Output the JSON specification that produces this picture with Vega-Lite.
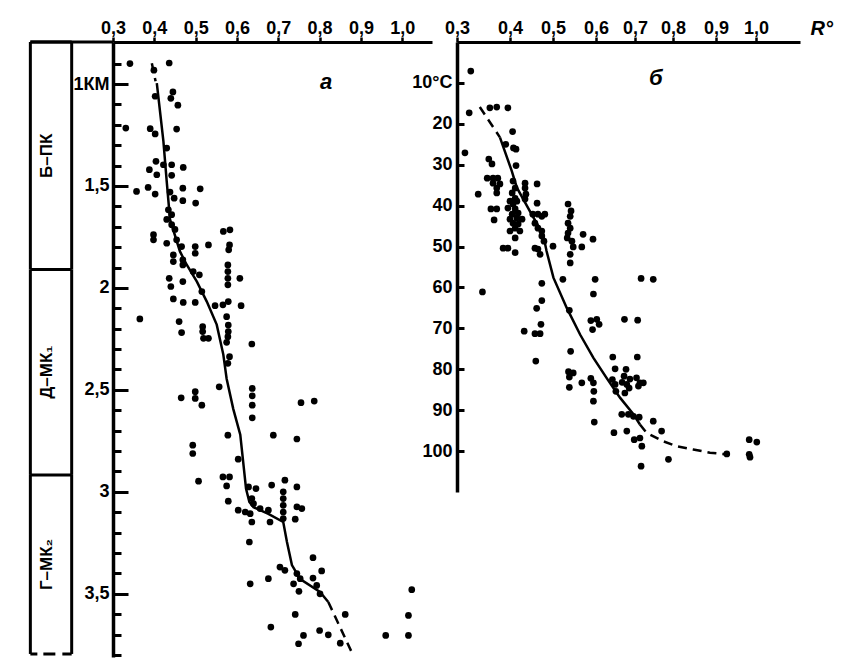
{
  "$schema": "https://vega.github.io/schema/vega-lite/v6.json",
  "background": "white",
  "padding": {"left": 28, "top": 18, "right": 5, "bottom": 5},
  "bounds": "flush",
  "spacing": 25,
  "config": {
    "view": {"stroke": null},
    "font": "Liberation Sans",
    "axis": {"labelOverlap": false, "labelFlush": false, "grid": false, "domainColor": "black", "tickColor": "black", "labelColor": "black", "labelFontWeight": "bold", "labelFontSize": 18, "labelFont": "Liberation Sans"}
  },
  "datasets": {
    "apts": [
      {"R":0.341,"D":0.900},{"R":0.436,"D":0.897},{"R":0.399,"D":0.932},{"R":0.445,"D":1.039},{"R":0.402,"D":1.060},{"R":0.440,"D":1.070},{"R":0.457,"D":1.104},{"R":0.331,"D":1.216},{"R":0.390,"D":1.219},{"R":0.402,"D":1.245},{"R":0.454,"D":1.221},{"R":0.430,"D":1.314},{"R":0.404,"D":1.379},{"R":0.422,"D":1.396},{"R":0.442,"D":1.396},{"R":0.470,"D":1.409},{"R":0.388,"D":1.420},{"R":0.406,"D":1.445},{"R":0.442,"D":1.448},{"R":0.385,"D":1.507},{"R":0.357,"D":1.527},{"R":0.402,"D":1.540},{"R":0.438,"D":1.530},{"R":0.469,"D":1.511},{"R":0.511,"D":1.514},{"R":0.448,"D":1.560},{"R":0.469,"D":1.572},{"R":0.500,"D":1.584},{"R":0.434,"D":1.617},{"R":0.442,"D":1.641},{"R":0.430,"D":1.664},
      {"R":0.442,"D":1.690},{"R":0.450,"D":1.713},{"R":0.398,"D":1.739},{"R":0.398,"D":1.764},{"R":0.430,"D":1.781},{"R":0.454,"D":1.764},{"R":0.466,"D":1.797},{"R":0.499,"D":1.797},{"R":0.499,"D":1.830},{"R":0.531,"D":1.789},{"R":0.583,"D":1.715},{"R":0.567,"D":1.723},{"R":0.582,"D":1.789},{"R":0.580,"D":1.813},{"R":0.446,"D":1.838},{"R":0.446,"D":1.871},{"R":0.469,"D":1.887},{"R":0.469,"D":1.862},{"R":0.494,"D":1.920},{"R":0.509,"D":1.936},{"R":0.578,"D":1.887},{"R":0.578,"D":1.920},{"R":0.578,"D":1.953},{"R":0.578,"D":1.985},{"R":0.607,"D":1.953},{"R":0.436,"D":1.953},{"R":0.440,"D":1.993},{"R":0.469,"D":1.969},{"R":0.515,"D":2.018},{"R":0.446,"D":2.054},{"R":0.470,"D":2.071},{"R":0.499,"D":2.071},{"R":0.547,"D":2.087},{"R":0.566,"D":2.083},{"R":0.579,"D":2.067},{"R":0.610,"D":2.087},{"R":0.575,"D":2.141},{"R":0.365,"D":2.152},{"R":0.460,"D":2.165},{"R":0.466,"D":2.219},{"R":0.517,"D":2.190},{"R":0.517,"D":2.214},{"R":0.519,"D":2.247},{"R":0.531,"D":2.247},{"R":0.579,"D":2.182},{"R":0.579,"D":2.214},{"R":0.578,"D":2.239},{"R":0.575,"D":2.267},{"R":0.636,"D":2.275},{"R":0.582,"D":2.337},{"R":0.578,"D":2.370},{"R":0.557,"D":2.485},{"R":0.465,"D":2.539},{"R":0.499,"D":2.509},{"R":0.499,"D":2.542},{"R":0.515,"D":2.575},{"R":0.637,"D":2.493},{"R":0.637,"D":2.529},{"R":0.637,"D":2.575},{"R":0.637,"D":2.637},{"R":0.755,"D":2.563},{"R":0.787,"D":2.555},{"R":0.578,"D":2.722},{"R":0.688,"D":2.722},{"R":0.745,"D":2.741},
      {"R":0.493,"D":2.771},{"R":0.493,"D":2.812},{"R":0.603,"D":2.840},{"R":0.507,"D":2.948},{"R":0.566,"D":2.927},{"R":0.582,"D":2.927},{"R":0.575,"D":2.971},{"R":0.579,"D":3.046},{"R":0.628,"D":2.976},{"R":0.646,"D":2.984},{"R":0.636,"D":3.033},{"R":0.640,"D":3.058},{"R":0.603,"D":3.090},{"R":0.620,"D":3.099},{"R":0.632,"D":3.107},{"R":0.636,"D":3.148},{"R":0.684,"D":2.967},{"R":0.716,"D":2.943},{"R":0.745,"D":2.976},{"R":0.712,"D":3.000},{"R":0.712,"D":3.033},{"R":0.712,"D":3.066},{"R":0.712,"D":3.099},{"R":0.712,"D":3.131},{"R":0.745,"D":3.074},{"R":0.757,"D":3.082},{"R":0.741,"D":3.134},{"R":0.676,"D":3.090},{"R":0.680,"D":3.148},{"R":0.656,"D":3.082},{"R":0.630,"D":3.246},{"R":0.784,"D":3.323},{"R":0.704,"D":3.369},{"R":0.716,"D":3.385},{"R":0.805,"D":3.388},{"R":0.676,"D":3.426},{"R":0.632,"D":3.451},{"R":0.745,"D":3.401},{"R":0.753,"D":3.426},{"R":0.737,"D":3.451},{"R":0.784,"D":3.423},{"R":0.793,"D":3.459},{"R":0.750,"D":3.488},{"R":0.801,"D":3.500},{"R":0.741,"D":3.601},{"R":0.862,"D":3.601},{"R":0.682,"D":3.663},{"R":0.800,"D":3.680},{"R":0.821,"D":3.701},{"R":0.761,"D":3.704},{"R":0.749,"D":3.745},{"R":0.850,"D":3.742},{"R":0.960,"D":3.704},{"R":1.015,"D":3.704},{"R":1.015,"D":3.606},{"R":1.023,"D":3.480}
    ],
    "aline": [
      {"R":0.394,"D":0.898,"seg":"t"},{"R":0.403,"D":0.986,"seg":"t"},
      {"R":0.406,"D":0.996,"seg":"s"},{"R":0.422,"D":1.281,"seg":"s"},{"R":0.430,"D":1.478,"seg":"s"},{"R":0.438,"D":1.664,"seg":"s"},{"R":0.462,"D":1.821,"seg":"s"},{"R":0.478,"D":1.885,"seg":"s"},{"R":0.503,"D":1.969,"seg":"s"},{"R":0.527,"D":2.067,"seg":"s"},{"R":0.551,"D":2.180,"seg":"s"},{"R":0.567,"D":2.327,"seg":"s"},{"R":0.575,"D":2.445,"seg":"s"},{"R":0.591,"D":2.593,"seg":"s"},{"R":0.608,"D":2.720,"seg":"s"},{"R":0.622,"D":2.985,"seg":"s"},{"R":0.630,"D":3.050,"seg":"s"},{"R":0.640,"D":3.075,"seg":"s"},{"R":0.676,"D":3.108,"seg":"s"},{"R":0.712,"D":3.148,"seg":"s"},{"R":0.721,"D":3.246,"seg":"s"},{"R":0.733,"D":3.359,"seg":"s"},{"R":0.753,"D":3.428,"seg":"s"},{"R":0.801,"D":3.491,"seg":"s"},{"R":0.821,"D":3.540,"seg":"s"},
      {"R":0.821,"D":3.540,"seg":"b"},{"R":0.881,"D":3.801,"seg":"b"}
    ],
    "bpts": [
      {"R":0.326,"T":7.1},{"R":0.323,"T":17.3},{"R":0.315,"T":27.1},{"R":0.340,"T":37.2},{"R":0.362,"T":16.1},{"R":0.375,"T":15.9},{"R":0.396,"T":16.1},{"R":0.406,"T":21.9},{"R":0.392,"T":25.0},{"R":0.408,"T":25.9},{"R":0.414,"T":26.2},{"R":0.414,"T":30.2},
      {"R":0.360,"T":28.6},{"R":0.366,"T":29.8},{"R":0.357,"T":33.3},{"R":0.368,"T":33.3},{"R":0.377,"T":33.3},{"R":0.368,"T":34.5},{"R":0.375,"T":35.7},{"R":0.381,"T":34.7},{"R":0.375,"T":36.9},{"R":0.364,"T":40.8},{"R":0.375,"T":40.8},{"R":0.370,"T":43.5},
      {"R":0.407,"T":34.0},{"R":0.412,"T":35.7},{"R":0.405,"T":36.9},{"R":0.412,"T":38.2},{"R":0.400,"T":38.9},{"R":0.407,"T":39.6},{"R":0.416,"T":38.9},{"R":0.396,"T":40.6},{"R":0.412,"T":40.8},{"R":0.419,"T":41.8},{"R":0.405,"T":42.1},{"R":0.416,"T":43.0},{"R":0.400,"T":43.3},{"R":0.407,"T":44.3},{"R":0.419,"T":44.5},{"R":0.412,"T":45.5},{"R":0.400,"T":46.2},{"R":0.428,"T":43.3},{"R":0.423,"T":46.2},
      {"R":0.435,"T":34.5},{"R":0.435,"T":35.7},{"R":0.437,"T":37.2},{"R":0.435,"T":38.4},{"R":0.463,"T":34.7},{"R":0.463,"T":39.4},{"R":0.453,"T":42.1},{"R":0.465,"T":42.1},{"R":0.474,"T":42.6},{"R":0.481,"T":42.1},{"R":0.458,"T":44.3},{"R":0.465,"T":45.5},{"R":0.474,"T":46.2},{"R":0.474,"T":47.4},{"R":0.479,"T":48.7},{"R":0.500,"T":49.9},
      {"R":0.535,"T":39.6},{"R":0.542,"T":41.3},{"R":0.540,"T":42.6},{"R":0.535,"T":44.3},{"R":0.540,"T":45.5},{"R":0.535,"T":46.7},{"R":0.533,"T":47.9},{"R":0.544,"T":48.7},{"R":0.547,"T":50.1},{"R":0.567,"T":50.1},{"R":0.570,"T":47.0},{"R":0.593,"T":48.2},{"R":0.387,"T":50.4},{"R":0.396,"T":50.4},{"R":0.412,"T":47.9},{"R":0.458,"T":50.4},{"R":0.465,"T":50.6},
      {"R":0.412,"T":51.5},{"R":0.470,"T":51.9},{"R":0.540,"T":51.9},{"R":0.540,"T":54.0},{"R":0.348,"T":61.1},{"R":0.474,"T":59.0},{"R":0.474,"T":63.2},{"R":0.462,"T":65.1},{"R":0.472,"T":69.0},{"R":0.433,"T":70.7},{"R":0.458,"T":71.3},{"R":0.470,"T":71.3},{"R":0.460,"T":78.0},{"R":0.523,"T":58.0},{"R":0.598,"T":58.0},{"R":0.594,"T":61.6},{"R":0.538,"T":65.6},{"R":0.588,"T":68.1},{"R":0.602,"T":67.8},{"R":0.608,"T":69.0},{"R":0.592,"T":70.3},{"R":0.673,"T":67.8},{"R":0.707,"T":68.0},{"R":0.716,"T":57.8},{"R":0.748,"T":58.0},{"R":0.541,"T":75.6},{"R":0.536,"T":80.6},{"R":0.547,"T":80.9},{"R":0.538,"T":81.9},{"R":0.538,"T":84.4},{"R":0.567,"T":83.3},{"R":0.588,"T":82.2},{"R":0.594,"T":83.3},{"R":0.595,"T":85.4},{"R":0.594,"T":87.8},{"R":0.596,"T":92.9},{"R":0.643,"T":77.0},{"R":0.649,"T":79.9},{"R":0.642,"T":82.5},{"R":0.649,"T":83.7},{"R":0.651,"T":85.4},{"R":0.677,"T":80.0},{"R":0.672,"T":81.7},{"R":0.687,"T":82.4},{"R":0.679,"T":83.7},{"R":0.667,"T":83.2},{"R":0.685,"T":84.6},{"R":0.674,"T":85.8},{"R":0.706,"T":77.0},{"R":0.704,"T":82.1},{"R":0.713,"T":83.3},{"R":0.722,"T":83.3},{"R":0.709,"T":84.1},{"R":0.666,"T":91.0},{"R":0.683,"T":91.0},{"R":0.696,"T":91.5},{"R":0.711,"T":91.7},{"R":0.646,"T":95.5},{"R":0.679,"T":95.1},{"R":0.698,"T":97.2},{"R":0.713,"T":96.8},{"R":0.718,"T":98.8},{"R":0.748,"T":92.7},{"R":0.770,"T":95.1},{"R":0.716,"T":103.7},{"R":0.788,"T":102.0},{"R":0.927,"T":100.7},{"R":0.983,"T":97.2},{"R":1.002,"T":97.8},{"R":0.983,"T":100.8},{"R":0.985,"T":101.5}
    ],
    "bline": [
      {"R":0.343,"T":15.9,"seg":"t"},{"R":0.381,"T":23.3,"seg":"t"},
      {"R":0.381,"T":23.3,"seg":"s"},{"R":0.404,"T":31.5,"seg":"s"},{"R":0.416,"T":35.6,"seg":"s"},{"R":0.450,"T":42.1,"seg":"s"},{"R":0.477,"T":47.0,"seg":"s"},{"R":0.485,"T":51.1,"seg":"s"},{"R":0.501,"T":57.6,"seg":"s"},{"R":0.532,"T":65.0,"seg":"s"},{"R":0.563,"T":71.5,"seg":"s"},{"R":0.594,"T":77.2,"seg":"s"},{"R":0.627,"T":82.1,"seg":"s"},{"R":0.662,"T":87.0,"seg":"s"},{"R":0.696,"T":91.0,"seg":"s"},{"R":0.713,"T":93.5,"seg":"s"},
      {"R":0.713,"T":93.5,"seg":"b"},{"R":0.730,"T":95.5,"seg":"b"},{"R":0.774,"T":97.6,"seg":"b"},{"R":0.809,"T":98.8,"seg":"b"},{"R":0.847,"T":99.6,"seg":"b"},{"R":0.886,"T":100.4,"seg":"b"},{"R":0.927,"T":100.8,"seg":"b"}
    ],
    "strata": [
      {"unit":"Б–ПК","top":0.794,"bottom":1.91},
      {"unit":"Д–МК₁","top":1.91,"bottom":2.917},
      {"unit":"Г–МК₂","top":2.917,"bottom":3.795}
    ]
  },
  "hconcat": [
    {
      "width": 319,
      "height": 615,
      "resolve": {"axis": {"y": "independent"}},
      "layer": [
        {
          "data": {"name": "apts"},
          "mark": {"type": "point", "filled": true, "color": "black", "opacity": 1, "size": 45},
          "encoding": {
            "x": {"field": "R", "type": "quantitative", "scale": {"domain": [0.3, 1.072], "nice": false, "zero": false},
              "axis": {"orient": "top", "values": [0.3,0.4,0.5,0.6,0.7,0.8,0.9,1.0], "labelExpr": "replace(format(datum.value,'.1f'),'.',',')", "title": null, "grid": false, "tickSize": 5, "tickWidth": 2.5, "domainWidth": 3, "labelPadding": 4, "labelBaseline": "alphabetic", "labelOverlap": false, "labelFontSize": 18}},
            "y": {"field": "D", "type": "quantitative", "scale": {"domain": [0.794, 3.81], "reverse": true, "nice": false, "zero": false},
              "axis": {"orient": "left", "values": [1,1.5,2,2.5,3,3.5], "title": null, "grid": false,
                "tickSize": -15, "tickWidth": 3, "domainWidth": 3.5,
                "labelExpr": "datum.value == 1 ? '1КМ' : replace(format(datum.value,'.1~f'),'.',',')",
                "labelPadding": 19, "labelBaseline": "middle", "labelOverlap": false, "labelFontSize": 18}}
          }
        },
        {
          "data": {"name": "aline"},
          "transform": [{"filter": "datum.seg == 's'"}],
          "mark": {"type": "line", "color": "black", "strokeWidth": 2.5},
          "encoding": {
            "x": {"field": "R", "type": "quantitative", "scale": {"domain": [0.3, 1.072], "nice": false, "zero": false}},
            "y": {"field": "D", "type": "quantitative", "scale": {"domain": [0.794, 3.81], "reverse": true, "nice": false, "zero": false},
              "axis": {"orient": "right", "offset": -319, "values": [0.9,1.1,1.2,1.3,1.4,1.6,1.7,1.8,1.9,2.1,2.2,2.3,2.4,2.6,2.7,2.8,2.9,3.1,3.2,3.3,3.4,3.6,3.7,3.8], "title": null, "grid": false, "labels": false, "domain": false, "tickSize": 8, "tickWidth": 3}},
            "order": {"field": "D"}
          }
        },
        {
          "data": {"name": "aline"},
          "transform": [{"filter": "datum.seg != 's'"}],
          "mark": {"type": "line", "color": "black", "strokeWidth": 2.5, "strokeDash": [9, 6]},
          "encoding": {
            "x": {"field": "R", "type": "quantitative", "scale": {"domain": [0.3, 1.072], "nice": false, "zero": false}},
            "y": {"field": "D", "type": "quantitative", "scale": {"domain": [0.794, 3.81], "reverse": true, "nice": false, "zero": false}, "axis": null},
            "detail": {"field": "seg"},
            "order": {"field": "D"}
          }
        },
        {
          "data": {"name": "strata"},
          "mark": {"type": "rule", "color": "black", "strokeWidth": 3},
          "encoding": {
            "x": {"datum": 0.1, "type": "quantitative", "scale": {"domain": [0.3, 1.072], "nice": false, "zero": false}},
            "y": {"field": "top", "type": "quantitative", "scale": {"domain": [0.794, 3.81], "reverse": true, "nice": false, "zero": false}, "axis": null},
            "y2": {"field": "bottom"}
          }
        },
        {
          "data": {"name": "strata"},
          "mark": {"type": "rule", "color": "black", "strokeWidth": 3},
          "encoding": {
            "x": {"datum": 0.2, "type": "quantitative", "scale": {"domain": [0.3, 1.072], "nice": false, "zero": false}},
            "y": {"field": "top", "type": "quantitative", "scale": {"domain": [0.794, 3.81], "reverse": true, "nice": false, "zero": false}, "axis": null},
            "y2": {"field": "bottom"}
          }
        },
        {
          "data": {"name": "strata"},
          "mark": {"type": "rule", "color": "black", "strokeWidth": 3},
          "encoding": {
            "x": {"datum": 0.1, "type": "quantitative", "scale": {"domain": [0.3, 1.072], "nice": false, "zero": false}},
            "x2": {"datum": 0.2},
            "y": {"field": "top", "type": "quantitative", "scale": {"domain": [0.794, 3.81], "reverse": true, "nice": false, "zero": false}, "axis": null}
          }
        },
        {
          "data": {"values": [{}]},
          "mark": {"type": "rule", "color": "black", "strokeWidth": 3},
          "encoding": {
            "x": {"datum": 0.1, "type": "quantitative", "scale": {"domain": [0.3, 1.072], "nice": false, "zero": false}},
            "x2": {"datum": 0.3},
            "y": {"datum": 0.794, "type": "quantitative", "scale": {"domain": [0.794, 3.81], "reverse": true, "nice": false, "zero": false}, "axis": null}
          }
        },
        {
          "data": {"name": "strata"},
          "transform": [{"filter": "datum.unit == 'Г–МК₂'"}],
          "mark": {"type": "rule", "color": "black", "strokeWidth": 3, "strokeDash": [7, 6, 12, 7, 10, 10]},
          "encoding": {
            "x": {"datum": 0.1, "type": "quantitative", "scale": {"domain": [0.3, 1.072], "nice": false, "zero": false}},
            "x2": {"datum": 0.2},
            "y": {"field": "bottom", "type": "quantitative", "scale": {"domain": [0.794, 3.81], "reverse": true, "nice": false, "zero": false}, "axis": null}
          }
        },
        {
          "data": {"name": "strata"},
          "transform": [{"calculate": "(datum.top + datum.bottom) / 2", "as": "mid"}],
          "mark": {"type": "text", "angle": 270, "align": "center", "baseline": "middle", "fontSize": 17, "fontWeight": "bold", "color": "black"},
          "encoding": {
            "x": {"datum": 0.14, "type": "quantitative", "scale": {"domain": [0.3, 1.072], "nice": false, "zero": false}},
            "y": {"field": "mid", "type": "quantitative", "scale": {"domain": [0.794, 3.81], "reverse": true, "nice": false, "zero": false}, "axis": null},
            "text": {"field": "unit"}
          }
        },
        {
          "data": {"values": [{}]},
          "mark": {"type": "text", "align": "center", "baseline": "alphabetic", "fontSize": 22, "fontWeight": "bold", "fontStyle": "italic", "color": "black"},
          "encoding": {
            "x": {"datum": 0.816, "type": "quantitative", "scale": {"domain": [0.3, 1.072], "nice": false, "zero": false}},
            "y": {"datum": 1.025, "type": "quantitative", "scale": {"domain": [0.794, 3.81], "reverse": true, "nice": false, "zero": false}, "axis": null},
            "text": {"value": "а"}
          }
        }
      ]
    },
    {
      "width": 343,
      "height": 450,
      "layer": [
        {
          "data": {"name": "bpts"},
          "mark": {"type": "point", "filled": true, "color": "black", "opacity": 1, "size": 45},
          "encoding": {
            "x": {"field": "R", "type": "quantitative", "scale": {"type": "linear", "domain": [0.3,0.4,0.5,0.6,0.7,0.8,0.9,1.0,1.11], "range": [0,53,96,139,178,216,259,299,343], "nice": false, "zero": false},
              "axis": {"orient": "top", "values": [0.3,0.4,0.5,0.6,0.7,0.8,0.9,1.0], "labelExpr": "replace(format(datum.value,'.1f'),'.',',')", "grid": false, "tickSize": 5, "tickWidth": 2.5, "domainWidth": 3, "labelPadding": 4, "labelBaseline": "alphabetic", "labelOverlap": false, "labelFontSize": 18,
                "title": "R°", "titleX": 353, "titleY": -8, "titleAlign": "left", "titleBaseline": "alphabetic", "titleAngle": 0, "titleFontSize": 20, "titleFontStyle": "italic", "titleFontWeight": "bold", "titleColor": "black"}},
            "y": {"field": "T", "type": "quantitative", "scale": {"domain": [0, 110], "reverse": true, "nice": false, "zero": false},
              "axis": {"orient": "left", "values": [10,20,30,40,50,60,70,80,90,100], "title": null, "grid": false, "tickSize": -7, "tickWidth": 3, "domainWidth": 3.5,
                "labelExpr": "datum.value == 10 ? '10°C' : datum.label", "labelPadding": 12, "labelBaseline": "middle", "labelOverlap": false, "labelFontSize": 18}}
          }
        },
        {
          "data": {"name": "bline"},
          "transform": [{"filter": "datum.seg == 's'"}],
          "mark": {"type": "line", "color": "black", "strokeWidth": 2.5},
          "encoding": {
            "x": {"field": "R", "type": "quantitative", "scale": {"type": "linear", "domain": [0.3,0.4,0.5,0.6,0.7,0.8,0.9,1.0,1.11], "range": [0,53,96,139,178,216,259,299,343], "nice": false, "zero": false}},
            "y": {"field": "T", "type": "quantitative", "scale": {"domain": [0, 110], "reverse": true, "nice": false, "zero": false}},
            "order": {"field": "T"}
          }
        },
        {
          "data": {"name": "bline"},
          "transform": [{"filter": "datum.seg != 's'"}],
          "mark": {"type": "line", "color": "black", "strokeWidth": 2.5, "strokeDash": [9, 6]},
          "encoding": {
            "x": {"field": "R", "type": "quantitative", "scale": {"type": "linear", "domain": [0.3,0.4,0.5,0.6,0.7,0.8,0.9,1.0,1.11], "range": [0,53,96,139,178,216,259,299,343], "nice": false, "zero": false}},
            "y": {"field": "T", "type": "quantitative", "scale": {"domain": [0, 110], "reverse": true, "nice": false, "zero": false}},
            "detail": {"field": "seg"},
            "order": {"field": "T"}
          }
        },
        {
          "data": {"values": [{}]},
          "mark": {"type": "text", "align": "center", "baseline": "alphabetic", "fontSize": 22, "fontWeight": "bold", "fontStyle": "italic", "color": "black"},
          "encoding": {
            "x": {"datum": 0.755, "type": "quantitative", "scale": {"type": "linear", "domain": [0.3,0.4,0.5,0.6,0.7,0.8,0.9,1.0,1.11], "range": [0,53,96,139,178,216,259,299,343], "nice": false, "zero": false}},
            "y": {"datum": 10.5, "type": "quantitative", "scale": {"domain": [0, 110], "reverse": true, "nice": false, "zero": false}},
            "text": {"value": "б"}
          }
        }
      ]
    }
  ]
}
